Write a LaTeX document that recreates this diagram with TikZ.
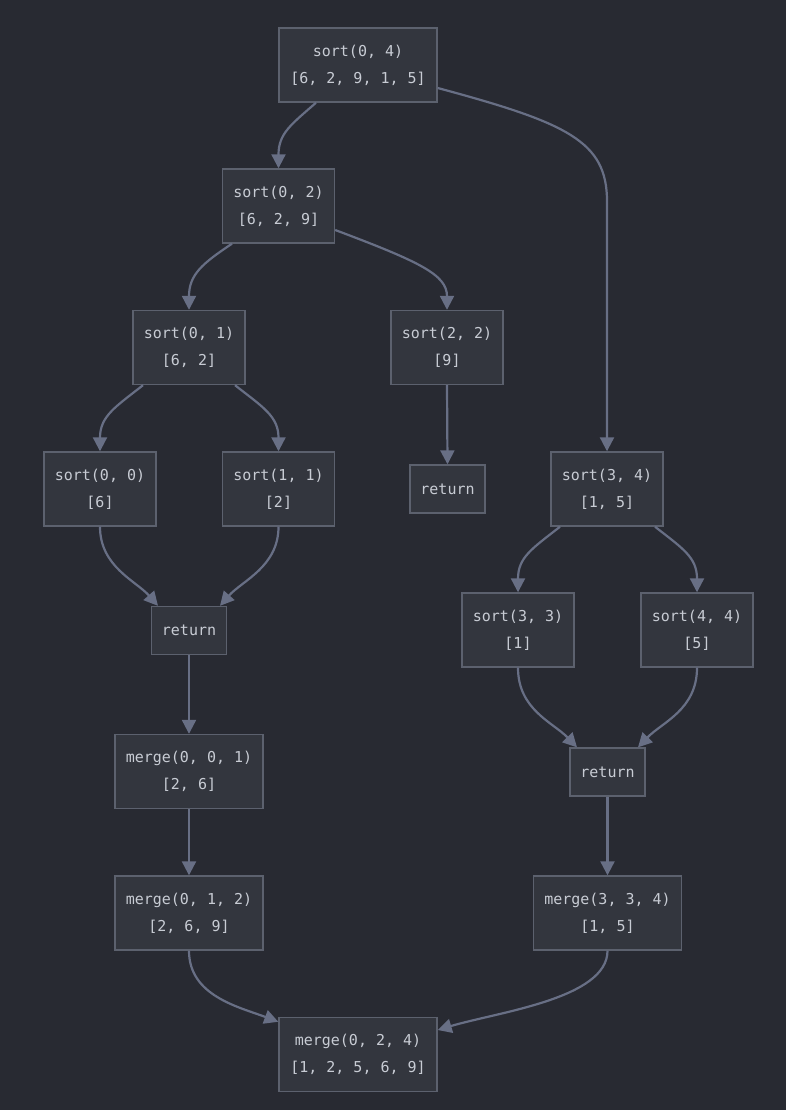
\documentclass[tikz,border=0pt]{standalone}
\usepackage{fontspec}
\setmonofont{DejaVu Sans Mono}
\usetikzlibrary{arrows.meta}
\definecolor{bgc}{RGB}{40,42,50}
\definecolor{nodefill}{RGB}{51,54,62}
\definecolor{nodeborder}{RGB}{92,97,110}
\definecolor{txt}{RGB}{200,204,212}
\definecolor{edgec}{RGB}{104,111,133}
\tikzset{
  box/.style={draw=nodeborder, fill=nodefill, line width=1.4pt, text=txt,
    font=\ttfamily\fontsize{15}{27}\selectfont, align=center, inner sep=0pt},
  two/.style={box, minimum height=74pt},
  one/.style={box, minimum height=48pt},
  wA/.style={minimum width=158pt},
  wB/.style={minimum width=112pt},
  wC/.style={minimum width=148pt},
  wR/.style={minimum width=75pt},
  edge/.style={draw=edgec, line width=2.2pt, -{Triangle[length=14pt,width=14pt]}}
}
\begin{document}
\begin{tikzpicture}[x=1pt,y=-1pt]
\fill[bgc] (0,0) rectangle (786,1110);
\useasboundingbox (0,0) rectangle (786,1110);

\node[two,wA] (s04) at (358,65) {sort(0, 4)\\{}[6, 2, 9, 1, 5]};
\node[two,wB] (s02) at (278.5,206) {sort(0, 2)\\{}[6, 2, 9]};
\node[two,wB] (s01) at (189,347.5) {sort(0, 1)\\{}[6, 2]};
\node[two,wB] (s22) at (447,347.5) {sort(2, 2)\\{}[9]};
\node[two,wB] (s00) at (100,489) {sort(0, 0)\\{}[6]};
\node[two,wB] (s11) at (278.5,489) {sort(1, 1)\\{}[2]};
\node[one,wR] (r1) at (447.5,489) {return};
\node[two,wB] (s34) at (607,489) {sort(3, 4)\\{}[1, 5]};
\node[one,wR] (r2) at (189,630.5) {return};
\node[two,wB] (s33) at (518,630) {sort(3, 3)\\{}[1]};
\node[two,wB] (s44) at (697,630) {sort(4, 4)\\{}[5]};
\node[two,wC] (m001) at (189,771.5) {merge(0, 0, 1)\\{}[2, 6]};
\node[one,wR] (r3) at (607.5,772) {return};
\node[two,wC] (m012) at (189,913) {merge(0, 1, 2)\\{}[2, 6, 9]};
\node[two,wC] (m334) at (607.5,913) {merge(3, 3, 4)\\{}[1, 5]};
\node[two,wA] (m024) at (358,1054.5) {merge(0, 2, 4)\\{}[1, 2, 5, 6, 9]};

\draw[edge] ([xshift=-42pt]s04.south) .. controls +(-25,22) and +(0,-35) .. (s02.north);
\draw[edge] ([yshift=-23pt]s04.east) .. controls +(130,35) and +(0,-60) .. ([yshift=250pt]s34.north) -- (s34.north);
\draw[edge] ([xshift=-46.5pt]s02.south) .. controls +(-30,20) and +(0,-35) .. (s01.north);
\draw[edge] ([yshift=-24pt]s02.east) .. controls +(85,32) and +(0,-35) .. (s22.north);
\draw[edge] ([xshift=-46pt]s01.south) .. controls +(-28,22) and +(0,-35) .. (s00.north);
\draw[edge] ([xshift=46pt]s01.south) .. controls +(28,22) and +(0,-35) .. (s11.north);
\draw[edge] (s22.south) -- (r1.north);
\draw[edge] (s00.south) .. controls +(0,40) and +(-22,-25) .. ([xshift=-31pt]r2.north);
\draw[edge] (s11.south) .. controls +(0,40) and +(22,-25) .. ([xshift=31pt]r2.north);
\draw[edge] (r2.south) -- (m001.north);
\draw[edge] (m001.south) -- (m012.north);
\draw[edge] ([xshift=-47pt]s34.south) .. controls +(-28,22) and +(0,-35) .. (s33.north);
\draw[edge] ([xshift=48pt]s34.south) .. controls +(28,22) and +(0,-35) .. (s44.north);
\draw[edge] (s33.south) .. controls +(0,42) and +(-24,-25) .. ([xshift=-30.5pt]r3.north);
\draw[edge] (s44.south) .. controls +(0,42) and +(24,-25) .. ([xshift=30.5pt]r3.north);
\draw[edge] (r3.south) -- (m334.north);
\draw[edge] (m012.south) .. controls +(0,45) and +(-40,-15) .. ([yshift=-5pt]m024.north west);
\draw[edge] (m334.south) .. controls +(0,48) and +(60,-18) .. ([yshift=24.5pt]m024.east);
\end{tikzpicture}
\end{document}
